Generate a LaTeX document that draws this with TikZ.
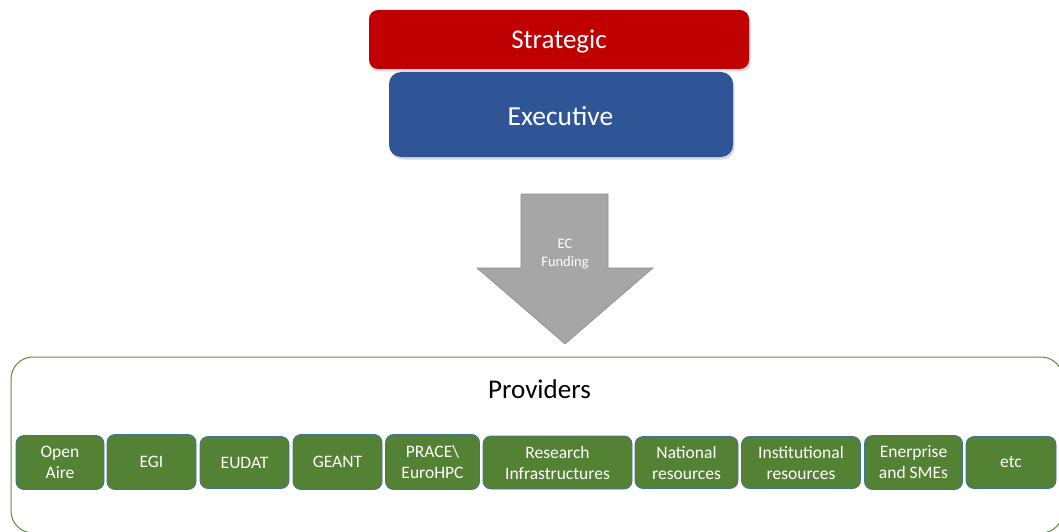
\documentclass[tikz,border=0pt]{standalone}
\usepackage{fontspec}
\setmainfont{Carlito}
\usetikzlibrary{shadows}
\definecolor{stratred}{HTML}{C00000}
\definecolor{execblue}{HTML}{2F5597}
\definecolor{provgreen}{HTML}{548235}
\definecolor{provedge}{HTML}{41719C}
\definecolor{framegreen}{HTML}{5E8C3A}
\definecolor{arrowgray}{HTML}{A6A6A6}
\definecolor{arrowedge}{HTML}{8C8C8C}
\tikzset{
  topbox/.style={rounded corners=9pt, drop shadow={opacity=0.3, shadow xshift=1.5pt, shadow yshift=-2.5pt}},
  prov/.style={draw=provedge, line width=0.8pt, fill=provgreen, rounded corners=8pt, text=white, font=\fontsize{17.5}{21}\selectfont, align=center, inner sep=0pt},
}
\begin{document}
\begin{tikzpicture}[x=1pt,y=-1pt]
\useasboundingbox (0,0) rectangle (1059,532);
% Providers frame
\draw[framegreen, line width=1pt, rounded corners=22pt] (11,533) -- (11,357) -- (1063,357) -- (1063,533) -- cycle;
\node (provtitle) at (539.5,389) {\fontsize{27}{32}\selectfont Providers};
% Strategic / Executive
\fill[stratred, topbox] (369,10) rectangle (749,69);
\node[text=white] (strat) at (559,41.5) {\fontsize{27}{32}\selectfont Strategic};
\fill[execblue, topbox, rounded corners=12pt] (389,72) rectangle (733,157);
\node[text=white] (exec) at (560.5,116) {\fontsize{27.5}{32}\selectfont Executive};
% Arrow
\draw[arrowedge, fill=arrowgray, line width=0.6pt] (521,194) -- (608,194) -- (608,268) -- (653,268) -- (565,344) -- (477,268) -- (521,268) -- cycle;
\node[text=white, align=center, font=\fontsize{14.5}{17.5}\selectfont] (fund) at (565,254) {EC\\Funding};
% Provider boxes
\node[prov, minimum width=88pt, minimum height=54pt] (b1) at (60,462.5) {Open\\Aire};
\node[prov, minimum width=89pt, minimum height=55pt] (b2) at (151.5,462) {EGI};
\node[prov, minimum width=89pt, minimum height=52pt] (b3) at (244.5,462.5) {EUDAT};
\node[prov, minimum width=89pt, minimum height=55pt] (b4) at (337.5,462) {GEANT};
\node[prov, minimum width=94pt, minimum height=55pt] (b5) at (432.5,462) {PRACE\textbackslash\\EuroHPC};
\node[prov, minimum width=149pt, minimum height=53pt] (b6) at (557.5,462.5) {Research\\Infrastructures};
\node[prov, minimum width=103pt, minimum height=52pt] (b7) at (686.5,462.5) {National\\resources};
\node[prov, minimum width=119pt, minimum height=52pt] (b8) at (801,462.5) {Institutional\\resources};
\node[prov, minimum width=98pt, minimum height=54pt] (b9) at (913.5,462.5) {Enerprise\\and SMEs};
\node[prov, minimum width=90pt, minimum height=52pt] (b10) at (1011,462.5) {etc};
\end{tikzpicture}
\end{document}
